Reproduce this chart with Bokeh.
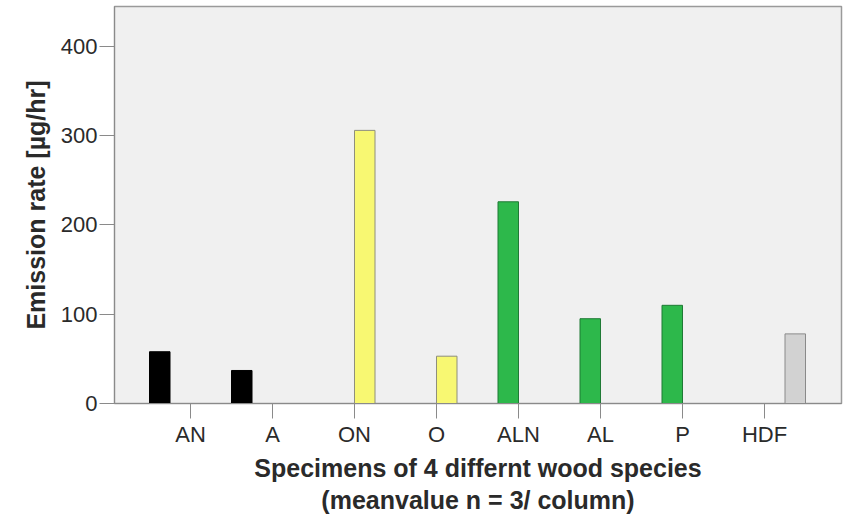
from bokeh.plotting import figure
from bokeh.models import ColumnDataSource, Range1d, FixedTicker
from bokeh.transform import dodge
from bokeh.embed import file_html
from bokeh.resources import INLINE

# ---- data ----
categories = ["AN", "A", "ON", "O", "ALN", "AL", "P", "HDF"]
species_of = [1, 1, 3, 3, 2, 2, 2, 4]          # wood species (cluster slot) of each column
emission = [58, 37, 306, 53, 226, 95, 110, 78]  # µg/hr
y_ticks = [0, 100, 200, 300, 400]
species_ids = [1, 2, 3, 4]

# ---- styles ----
fill_colors = {1: "#000000", 2: "#2db84b", 3: "#f8f872", 4: "#d2d2d2"}
line_colors = {1: "#000000", 2: "#1f7a35", 3: "#8f8f7c", 4: "#8a8a8a"}
slot_offset = {1: -0.375, 2: -0.125, 3: 0.125, 4: 0.375}
FONT = "Liberation Sans"
TXT = "#2a2a2a"

p = figure(width=848, height=517, output_backend="svg", toolbar_location=None,
           x_range=Range1d(-0.927, 7.939), y_range=Range1d(0, 444.8),
           min_border_left=114, min_border_right=7, min_border_top=6,
           min_border_bottom=114, background_fill_color="#f0f0f0",
           border_fill_color="white")

for s in species_ids:
    idx = [i for i, sp in enumerate(species_of) if sp == s]
    src = ColumnDataSource(dict(x=idx, top=[emission[i] for i in idx]))
    p.vbar(x=dodge("x", slot_offset[s]), top="top", width=0.25, source=src,
           fill_color=fill_colors[s], line_color=line_colors[s], line_width=1)

p.xgrid.visible = False
p.ygrid.visible = False
p.outline_line_color = "#9a9a9a"
p.outline_line_width = 1.5

xa = p.xaxis[0]
xa.ticker = FixedTicker(ticks=list(range(len(categories))))
xa.major_label_overrides = {i: c for i, c in enumerate(categories)}
xa.minor_tick_line_color = None
xa.major_tick_in = 0
xa.major_tick_out = 15
xa.major_label_standoff = 3
xa.axis_label = "Specimens of 4 differnt wood species\n(meanvalue n = 3/ column)"
xa.axis_label_standoff = 4
xa.axis_label_text_line_height = 1.17

ya = p.yaxis[0]
ya.ticker = FixedTicker(ticks=y_ticks)
ya.minor_tick_line_color = None
ya.major_tick_in = 0
ya.major_tick_out = 15
ya.major_label_standoff = 2
ya.axis_label = "Emission rate [µg/hr]"
ya.axis_label_standoff = 8

for ax in (xa, ya):
    ax.axis_line_color = "#8a8a8a"
    ax.major_tick_line_color = "#8a8a8a"
    ax.major_label_text_font = FONT
    ax.major_label_text_font_size = "22px"
    ax.major_label_text_color = TXT
    ax.axis_label_text_font = FONT
    ax.axis_label_text_font_size = "25px"
    ax.axis_label_text_font_style = "bold"
    ax.axis_label_text_color = TXT

open("out.html", "w").write(file_html(p, INLINE))
